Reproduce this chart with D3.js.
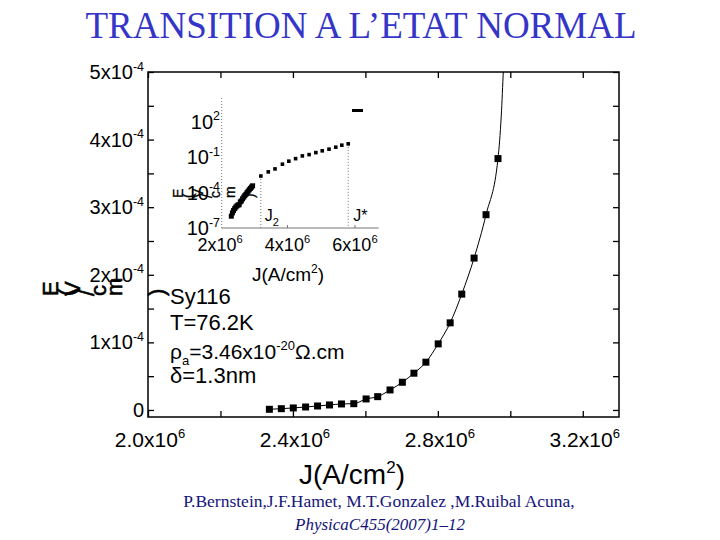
<!DOCTYPE html>
<html><head><meta charset="utf-8">
<script src="https://cdn.jsdelivr.net/npm/d3@7"></script>
<style>body{margin:0;background:#fff}svg{display:block}</style>
</head><body>
<script>
// ---------- data ----------
const mainJ = [2.335e6, 2.368e6, 2.401e6, 2.435e6, 2.468e6, 2.501e6, 2.534e6, 2.568e6, 2.602e6, 2.634e6,
               2.668e6, 2.702e6, 2.734e6, 2.767e6, 2.801e6, 2.834e6, 2.866e6, 2.900e6, 2.933e6, 2.966e6];
const mainE = [1.0e-6, 1.9e-6, 3.0e-6, 4.4e-6, 5.9e-6, 7.4e-6, 8.9e-6, 9.3e-6, 16.3e-6, 19.7e-6,
               29.6e-6, 41.0e-6, 54.4e-6, 70.7e-6, 97.8e-6, 128.9e-6, 171.4e-6, 224.7e-6, 288.9e-6, 371.9e-6];
const fitTailJ = [2.975e6, 2.981e6];
const fitTailE = [4.35e-4, 5.05e-4];
const insetJ = [3.21e6, 3.43e6, 3.63e6, 3.85e6, 4.04e6, 4.24e6, 4.44e6, 4.64e6, 4.84e6, 5.03e6, 5.23e6, 5.43e6, 5.61e6, 5.80e6];
const insetE = [2.5e-3, 5.6e-3, 1.0e-2, 2.5e-2, 4.5e-2, 7.4e-2, 0.126, 0.162, 0.24, 0.34, 0.47, 0.69, 1.02, 1.32];
const xTickValues = [2.0e6, 2.4e6, 2.8e6, 3.2e6];
const xTickMinor = [2.2e6, 2.6e6, 3.0e6];
const xTickMant = ["2.0", "2.4", "2.8", "3.2"];
const yTickValues = [0, 1e-4, 2e-4, 3e-4, 4e-4, 5e-4];
const yTickMinor = [0.5e-4, 1.5e-4, 2.5e-4, 3.5e-4, 4.5e-4];
const yTickMant = ["0", "1", "2", "3", "4", "5"];
const insetXTicks = [4e6, 6e6];
const insetXLabelValues = [2e6, 4e6, 6e6];
const insetXMant = ["2", "4", "6"];
const insetYTicks = [1e2, 1e-1, 1e-4, 1e-7];
const insetYExp = ["2", "-1", "-4", "-7"];

const SANS = "'Liberation Sans', Arial, sans-serif";
const SERIF = "'Liberation Serif', 'Times New Roman', serif";

const svg = d3.select("body").append("svg").attr("width", 720).attr("height", 540)
  .style("background", "#fff");

// title
svg.append("text").attr("x", 361).attr("y", 38).attr("text-anchor", "middle")
  .attr("font-family", SERIF).attr("font-size", 37).attr("fill", "#3535c8")
  .text("TRANSITION A L\u2019ETAT NORMAL");

// ---------- main plot ----------
const L = 148, R = 619, T = 72, B = 417;
const x = d3.scaleLinear().domain([2.0e6, 3.3e6]).range([L, R]);
const y = d3.scaleLinear().domain([-1.04e-5, 5.0e-4]).range([B, T]);

const g = svg.append("g").attr("font-family", SANS);

function styleAxis(sel) {
  sel.select(".domain").remove();
  sel.selectAll("line").attr("stroke", "#000").attr("stroke-width", 1.3);
}
g.append("g").attr("transform", `translate(0,${B})`)
  .call(d3.axisBottom(x).tickValues(xTickValues.concat(xTickMinor)).tickSize(-6).tickFormat(""))
  .call(styleAxis);
g.append("g").attr("transform", `translate(0,${T})`)
  .call(d3.axisTop(x).tickValues(xTickValues.concat(xTickMinor)).tickSize(-6).tickFormat(""))
  .call(styleAxis);
g.append("g").attr("transform", `translate(${L},0)`)
  .call(d3.axisLeft(y).tickValues(yTickValues.concat(yTickMinor)).tickSize(-6).tickFormat(""))
  .call(styleAxis);
g.append("g").attr("transform", `translate(${R},0)`)
  .call(d3.axisRight(y).tickValues(yTickValues.concat(yTickMinor)).tickSize(-6).tickFormat(""))
  .call(styleAxis);
g.append("rect").attr("x", L).attr("y", T).attr("width", R - L).attr("height", B - T)
  .attr("fill", "none").attr("stroke", "#000").attr("stroke-width", 1.5);

function sci(parent, px, py, base, exp, size, anchor) {
  const t = parent.append("text").attr("x", px).attr("y", py).attr("font-size", size)
    .attr("text-anchor", anchor).attr("fill", "#000");
  t.append("tspan").text(base);
  if (exp !== null) t.append("tspan").attr("dy", -size * 0.42).attr("font-size", size * 0.62).text(exp);
  return t;
}
xTickValues.forEach((v, i) => sci(g, x(v) + 2, 447, xTickMant[i] + "x10", "6", 21, "middle"));
yTickValues.forEach((v, i) => sci(g, 144, y(v) + 7, v === 0 ? "0" : yTickMant[i] + "x10", v === 0 ? null : "-4", 20, "end"));

// axis titles
const xt = g.append("text").attr("x", 352).attr("y", 484).attr("text-anchor", "middle").attr("font-size", 28);
xt.append("tspan").text("J(A/cm");
xt.append("tspan").attr("dy", -11).attr("font-size", 17).text("2");
xt.append("tspan").attr("dy", 11).text(")");

function glyphLabel(parent, xs, py, size, sw) {
  const chars = ["E", "(", "V", "/", "c", "m", ")"];
  parent.append("text").attr("x", xs.join(" ")).attr("y", py).attr("font-size", size)
    .attr("stroke", "#000").attr("stroke-width", sw)
    .attr("rotate", "-90").text(chars.join(""));
}
glyphLabel(g, [58, 74, 80, 94, 106, 122, 164], 296, 22, 0.6);

// data: fitted line + squares
const pts = mainJ.map((j, i) => [j, mainE[i]]);
const linePts = pts.concat(fitTailJ.map((j, i) => [j, fitTailE[i]]));
svg.append("clipPath").attr("id", "clipMain").append("rect")
  .attr("x", L).attr("y", T).attr("width", R - L).attr("height", B - T);
g.append("path").datum(linePts).attr("clip-path", "url(#clipMain)")
  .attr("fill", "none").attr("stroke", "#000").attr("stroke-width", 1)
  .attr("d", d3.line().x(d => x(d[0])).y(d => y(d[1])).curve(d3.curveMonotoneX));
g.selectAll("rect.pt").data(pts).enter().append("rect").attr("class", "pt")
  .attr("x", d => x(d[0]) - 3.5).attr("y", d => y(d[1]) - 3.5)
  .attr("width", 7).attr("height", 7).attr("fill", "#000");

// legend text
const lg = g.append("g").attr("font-size", 22).attr("fill", "#000");
lg.append("text").attr("x", 170).attr("y", 304).text("Sy116");
lg.append("text").attr("x", 170).attr("y", 330).text("T=76.2K");
const rho = lg.append("text").attr("x", 170).attr("y", 359).attr("font-size", 21);
rho.append("tspan").text("\u03c1");
rho.append("tspan").attr("dy", 6).attr("font-size", 13).text("a");
rho.append("tspan").attr("dy", -6).text("=3.46x10");
rho.append("tspan").attr("dy", -9).attr("font-size", 13).text("-20");
rho.append("tspan").attr("dy", 9).text("\u03a9.cm");
lg.append("text").attr("x", 170).attr("y", 383).text("\u03b4=1.3nm");

// ---------- inset ----------
const ix = d3.scaleLinear().domain([2.05e6, 6.7e6]).range([221.7, 378.6]);
const iy = d3.scaleLog().domain([1e-7, 1e4]).range([228, 98]);
const ig = svg.append("g").attr("font-family", SANS);
ig.append("line").attr("x1", ix.range()[0]).attr("x2", ix.range()[0]).attr("y1", iy.range()[1]).attr("y2", iy.range()[0])
  .attr("stroke", "#777").attr("stroke-dasharray", "1,2");
ig.append("line").attr("x1", ix.range()[0]).attr("x2", ix.range()[1]).attr("y1", iy.range()[0]).attr("y2", iy.range()[0])
  .attr("stroke", "#777");
ig.selectAll("line.it").data(insetXTicks).enter().append("line")
  .attr("x1", d => ix(d)).attr("x2", d => ix(d)).attr("y1", 228).attr("y2", 225).attr("stroke", "#777");
insetXLabelValues.forEach((v, i) => sci(ig, ix(v), 251, insetXMant[i] + "x10", "6", 18, "middle"));
insetYTicks.forEach((v, i) => sci(ig, 220, iy(v) + 7, "10", insetYExp[i], 20, "end"));
const ixt = ig.append("text").attr("x", 288).attr("y", 281).attr("text-anchor", "middle").attr("font-size", 19);
ixt.append("tspan").text("J(A/cm");
ixt.append("tspan").attr("dy", -8).attr("font-size", 12).text("2");
ixt.append("tspan").attr("dy", 8).text(")");
glyphLabel(ig, [183, 193, 203, 212, 220, 235, 254], 198, 14, 0.3);

// J2 and J* markers
const j2 = insetJ[0], e2 = insetE[0];
const js = insetJ[insetJ.length - 1], es = insetE[insetE.length - 1];
[[j2, e2], [js, es]].forEach(d => {
  ig.append("line").attr("x1", ix(d[0])).attr("x2", ix(d[0])).attr("y1", iy(d[1])).attr("y2", 228)
    .attr("stroke", "#777").attr("stroke-dasharray", "1,2");
});
const j2t = ig.append("text").attr("x", ix(j2) + 4).attr("y", 221).attr("font-size", 16);
j2t.append("tspan").text("J");
j2t.append("tspan").attr("dy", 5).attr("font-size", 11).text("2");
ig.append("text").attr("x", ix(js) + 5).attr("y", 221).attr("font-size", 16).text("J*");

// inset data: main series in log scale + high-current points
ig.selectAll("rect.lo").data(pts).enter().append("rect")
  .attr("x", d => ix(d[0]) - 2.5).attr("y", d => iy(d[1]) - 2.5).attr("width", 5).attr("height", 5).attr("fill", "#000");
ig.selectAll("rect.hi").data(insetJ.map((j, i) => [j, insetE[i]])).enter().append("rect")
  .attr("x", d => ix(d[0]) - 1.8).attr("y", d => iy(d[1]) - 1.8).attr("width", 3.6).attr("height", 3.6).attr("fill", "#000");
// stray dash mark
ig.append("rect").attr("x", 352).attr("y", 109).attr("width", 11).attr("height", 3).attr("fill", "#000");

// citation
svg.append("text").attr("x", 379).attr("y", 507).attr("text-anchor", "middle")
  .attr("font-family", SERIF).attr("font-size", 17.5).attr("fill", "#14147a")
  .text("P.Bernstein,J.F.Hamet, M.T.Gonzalez ,M.Ruibal Acuna,");
svg.append("text").attr("x", 380).attr("y", 530).attr("text-anchor", "middle")
  .attr("font-family", SERIF).attr("font-size", 17).attr("font-style", "italic").attr("fill", "#14147a")
  .text("PhysicaC455(2007)1\u201312");
</script>
</body></html>
